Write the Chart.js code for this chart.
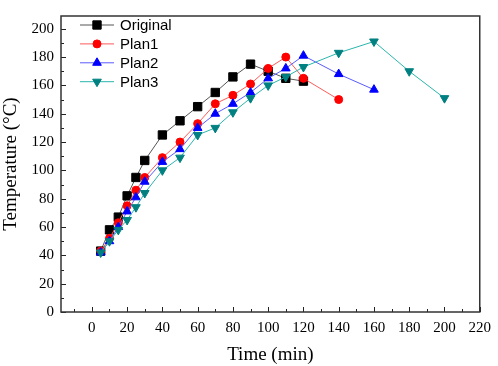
<!DOCTYPE html>
<html>
<head>
<meta charset="utf-8">
<script src="https://cdn.jsdelivr.net/npm/chart.js@4/dist/chart.umd.min.js"></script>
<style>
  html, body { margin: 0; padding: 0; background: #fff; }
  #wrap { width: 498px; height: 366px; }
</style>
</head>
<body>
<div id="wrap"><canvas id="chart"></canvas></div>
<script>
// data
const timeOriginal = [5, 10, 15, 20, 25, 30, 40, 50, 60, 70, 80, 90, 100, 110, 120];
const tempOriginal = [43, 58, 67, 82, 95, 107, 125, 135, 145, 155, 166, 175, 170, 165, 163];
const timePlan1 = [5, 10, 15, 20, 25, 30, 40, 50, 60, 70, 80, 90, 100, 110, 120, 140];
const tempPlan1 = [43, 52, 63, 75, 86, 95, 109, 120, 133, 147, 153, 161, 172, 180, 165, 150];
const timePlan2 = [5, 10, 15, 20, 25, 30, 40, 50, 60, 70, 80, 90, 100, 110, 120, 140, 160];
const tempPlan2 = [42, 50, 60, 71, 81, 92, 106, 115, 130, 140, 147, 155, 165, 172, 181, 168, 157];
const timePlan3 = [5, 10, 15, 20, 25, 30, 40, 50, 60, 70, 80, 90, 100, 110, 120, 140, 160, 180, 200];
const tempPlan3 = [42, 50, 58, 65, 74, 84, 100, 109, 125, 130, 141, 151, 160, 166, 173, 183, 191, 170, 151];

const xTicks = [0, 20, 40, 60, 80, 100, 120, 140, 160, 180, 200, 220];
const yTicks = [0, 20, 40, 60, 80, 100, 120, 140, 160, 180, 200];
const xMinor = [-10, 10, 30, 50, 70, 90, 110, 130, 150, 170, 190, 210];
const yMinor = [10, 30, 50, 70, 90, 110, 130, 150, 170, 190];

const seriesNames = ['Original', 'Plan1', 'Plan2', 'Plan3'];

function pts(xs, ys) {
    return xs.map((x, i) => ({ x: x, y: ys[i] }));
}

const serif = "'Liberation Serif', 'Times New Roman', serif";

// frame + inward tick marks
const framePlugin = {
    id: 'frame',
    beforeDatasetsDraw(chart) {
        const { ctx, chartArea: a, scales } = chart;
        ctx.save();
        ctx.strokeStyle = '#222';
        ctx.lineWidth = 1;
        ctx.beginPath();
        xTicks.forEach(v => {
            const px = Math.round(scales.x.getPixelForValue(v)) + 0.5;
            ctx.moveTo(px, a.bottom); ctx.lineTo(px, a.bottom - 5);
        });
        xMinor.forEach(v => {
            const px = Math.round(scales.x.getPixelForValue(v)) + 0.5;
            ctx.moveTo(px, a.bottom); ctx.lineTo(px, a.bottom - 3);
        });
        yTicks.forEach(v => {
            const py = Math.round(scales.y.getPixelForValue(v)) + 0.5;
            ctx.moveTo(a.left, py); ctx.lineTo(a.left + 5, py);
        });
        yMinor.forEach(v => {
            const py = Math.round(scales.y.getPixelForValue(v)) + 0.5;
            ctx.moveTo(a.left, py); ctx.lineTo(a.left + 3, py);
        });
        ctx.stroke();
        ctx.lineWidth = 1.5;
        ctx.strokeStyle = '#333';
        ctx.strokeRect(a.left, a.top, a.right - a.left, a.bottom - a.top);
        ctx.restore();
    }
};

// legend inside the plot, top left
const innerLegend = {
    id: 'innerLegend',
    afterDraw(chart) {
        const { ctx, chartArea: a } = chart;
        ctx.save();
        ctx.font = "15px 'Liberation Sans', Arial, sans-serif";
        ctx.textBaseline = 'middle';
        chart.data.datasets.forEach((ds, i) => {
            const y = 25 + i * 18.9;
            const x0 = a.left + 19, x1 = a.left + 53;
            ctx.strokeStyle = ds.borderColor;
            ctx.lineWidth = 1;
            ctx.beginPath();
            ctx.moveTo(x0, y); ctx.lineTo(x1, y);
            ctx.stroke();
            ctx.fillStyle = ds.pointBackgroundColor;
            ctx.strokeStyle = ds.pointBorderColor;
            Chart.helpers.drawPoint(ctx, {
                pointStyle: ds.pointStyle,
                rotation: ds.pointRotation || 0,
                radius: ds.pointRadius,
                borderWidth: 1
            }, (x0 + x1) / 2, y);
            ctx.fillStyle = '#000';
            ctx.fillText(seriesNames[i], a.left + 59, y + 1);
        });
        ctx.restore();
    }
};

new Chart(document.getElementById('chart'), {
    type: 'line',
    data: {
        datasets: [
            {
                label: seriesNames[0], data: pts(timeOriginal, tempOriginal),
                borderColor: '#555555', borderWidth: 1,
                pointStyle: 'rect', pointRadius: 5.9,
                pointBackgroundColor: '#000', pointBorderColor: '#000', order: 3
            },
            {
                label: seriesNames[1], data: pts(timePlan1, tempPlan1),
                borderColor: '#ff5a5a', borderWidth: 1,
                pointStyle: 'circle', pointRadius: 4,
                pointBackgroundColor: '#ff0000', pointBorderColor: '#ff0000', order: 2
            },
            {
                label: seriesNames[2], data: pts(timePlan2, tempPlan2),
                borderColor: '#5a5aff', borderWidth: 1,
                pointStyle: 'triangle', pointRadius: 5,
                pointBackgroundColor: '#0000ff', pointBorderColor: '#0000ff', order: 1
            },
            {
                label: seriesNames[3], data: pts(timePlan3, tempPlan3),
                borderColor: '#2bb5ad', borderWidth: 1,
                pointStyle: 'triangle', pointRotation: 180, pointRadius: 5,
                pointBackgroundColor: '#008080', pointBorderColor: '#008080', order: 0
            }
        ]
    },
    options: {
        responsive: true,
        maintainAspectRatio: false,
        animation: false,
        clip: false,
        layout: { padding: { left: 0, top: 3, right: 14, bottom: 0 } },
        plugins: { legend: { display: false }, tooltip: { enabled: false } },
        scales: {
            x: {
                type: 'linear', min: -17.5, max: 220,
                afterBuildTicks: s => { s.ticks = xTicks.map(v => ({ value: v })); },
                afterFit: s => { s.height = 54; },
                grid: { display: false, drawTicks: false },
                border: { display: false },
                ticks: { color: '#000', font: { family: serif, size: 15 }, padding: 7, maxRotation: 0 },
                title: { display: true, text: 'Time (min)', color: '#000', font: { family: serif, size: 19 }, padding: 0 }
            },
            y: {
                min: 0, max: 209,
                afterBuildTicks: s => { s.ticks = yTicks.map(v => ({ value: v })); },
                afterFit: s => { s.width = 61; },
                grid: { display: false, drawTicks: false },
                border: { display: false },
                ticks: { color: '#000', font: { family: serif, size: 15 }, padding: 7 },
                title: { display: true, text: 'Temperature (°C)', color: '#000', font: { family: serif, size: 19 }, padding: 0 }
            }
        }
    },
    plugins: [framePlugin, innerLegend]
});
</script>
</body>
</html>
